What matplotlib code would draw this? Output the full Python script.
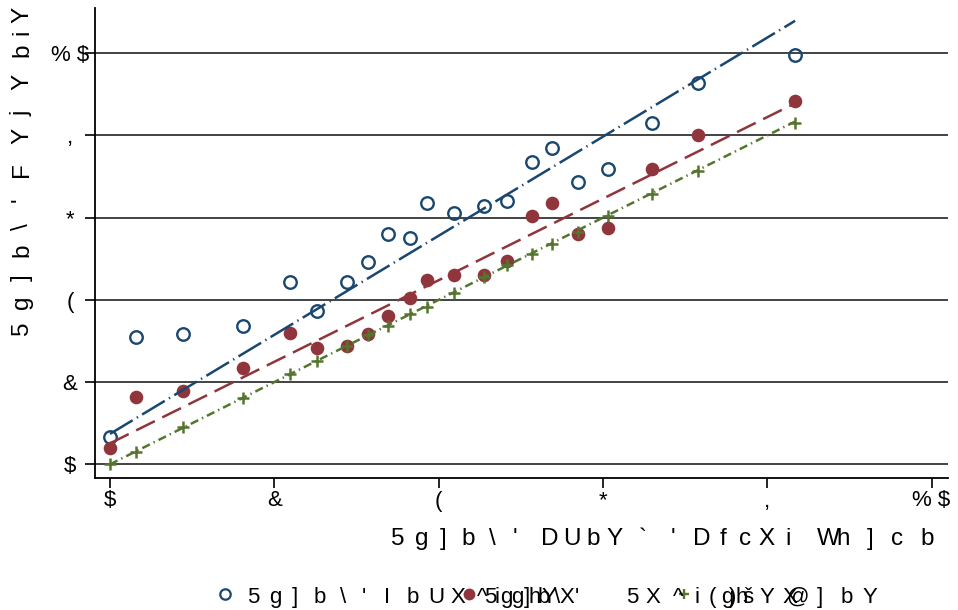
import matplotlib
matplotlib.use('Agg')
import matplotlib.pyplot as plt
from matplotlib.lines import Line2D

plt.rcParams['font.family'] = ['Liberation Sans', 'DejaVu Sans']
plt.rcParams['lines.scale_dashes'] = False

# binned means on the x axis
x_bins = [0.0, 0.316, 0.892, 1.615, 2.187, 2.516, 2.881, 3.137, 3.388, 3.655, 3.855,
          4.187, 4.556, 4.829, 5.133, 5.377, 5.701, 6.066, 6.601, 7.152, 8.339]
y_unadj = [0.672, 3.090, 3.178, 3.372, 4.443, 3.723, 4.428, 4.929, 5.596, 5.506, 6.365,
           6.107, 6.285, 6.406, 7.355, 7.703, 6.876, 7.185, 8.292, 9.270, 9.959]
y_adj = [0.404, 1.637, 1.791, 2.336, 3.202, 2.837, 2.886, 3.163, 3.616, 4.054, 4.477,
         4.613, 4.606, 4.939, 6.041, 6.350, 5.603, 5.749, 7.185, 8.000, 8.839]
y_ref = [0.0, 0.307, 0.900, 1.606, 2.190, 2.513, 2.886, 3.146, 3.372, 3.650, 3.835,
         4.175, 4.550, 4.849, 5.124, 5.367, 5.659, 6.049, 6.569, 7.136, 8.311]

# fitted lines: (intercept, slope)
fit_unadj = (0.74, 1.205)
fit_adj = (0.51, 0.992)
fit_ref = (0.0, 1.0)

ticks = [0, 2, 4, 6, 8, 10]
tick_labels = ['$', '&', '(', '*', ',', '% $']

navy = '#1a476f'
maroon = '#90353b'
green = '#55752f'

W, H = 958, 610
fig = plt.figure(figsize=(W / 100, H / 100), dpi=100)
ax = fig.add_axes([95 / W, 1 - 478 / H, 853 / W, 470 / H])

ax.plot(x_bins, y_unadj, 'o', ms=9, mfc='none', mec=navy, mew=1.7, zorder=3)
ax.plot(x_bins, y_adj, 'o', ms=9.8, mfc=maroon, mec=maroon, mew=0, zorder=3)
ax.plot(x_bins, y_ref, '+', ms=8.5, mec=green, mew=1.8, zorder=3)

x0, x1 = x_bins[0], x_bins[-1]
for (a, b), col, dash in [(fit_unadj, navy, (19, 3.5, 1, 3.5)),
                          (fit_adj, maroon, (15, 6)),
                          (fit_ref, green, (6, 3, 1, 3))]:
    ax.plot([x0, x1], [a + b * x0, a + b * x1], color=col, lw=1.8,
            dashes=dash, zorder=4)

ax.set_xlim(-0.183, 10.20)
ax.set_ylim(-0.333, 11.10)
for t in ticks:
    ax.axhline(t, color='#222222', lw=1.2, zorder=1)

ax.set_xticks(ticks)
ax.set_xticklabels(tick_labels, fontsize=16)
ax.set_yticks(ticks)
ax.set_yticklabels(tick_labels, fontsize=16, ha='center')
ax.tick_params(axis='x', length=7, width=1.2, pad=2)
ax.tick_params(axis='y', length=7, width=1.2, pad=11)

for side in ['top', 'right']:
    ax.spines[side].set_visible(False)
for side in ['left', 'bottom']:
    ax.spines[side].set_linewidth(1.3)


def put(ch, x, y, rot=0, size=17.5):
    fig.text(x / W, 1 - y / H, ch, fontsize=size, rotation=rot,
             rotation_mode='anchor', ha='center', va='baseline')


# x axis title
xt_chars = "5g]b\\'DUbY`'DfcXiWh]cb"
xt_pos = [398, 422, 443, 468, 492, 515, 550, 572, 593, 615, 643, 673,
          702, 723, 745, 767, 788, 828, 843, 870, 897, 927]
for ch, px in zip(xt_chars, xt_pos):
    put(ch, px, 545)

# y axis title
yt_chars = "5g]b\\'FYjYbiY"
yt_pos = [328, 302, 278, 250, 227, 200, 170, 136, 113, 82, 50, 32, 15]
for ch, py in zip(yt_chars, yt_pos):
    put(ch, 28, py, rot=90)

# legend
fig.add_artist(Line2D([225 / W], [1 - 594 / H], transform=fig.transFigure, marker='o',
                      ms=7.5, mfc='none', mec=navy, mew=1.6))
fig.add_artist(Line2D([469 / W], [1 - 594 / H], transform=fig.transFigure, marker='o',
                      ms=8.5, mfc=maroon, mec=maroon, mew=0))
fig.add_artist(Line2D([684 / W], [1 - 594 / H], transform=fig.transFigure, marker='+',
                      ms=7.5, mec=green, mew=1.7))

leg_chars = "5g]b\\'IbUX" + "^5igg]hbY\\X'" + "5X^" + "i(g)hšYX@]bY"
leg_pos = [253, 275, 295, 320, 343, 364, 387, 413, 436, 458,
           482, 490, 497, 506, 517, 527, 535, 544, 549, 557, 567, 577,
           632, 653, 678,
           697, 712, 727, 733, 742, 748, 767, 790, 797, 820, 847, 870]
for ch, px in zip(leg_chars, leg_pos):
    put(ch, px, 603, size=16)

fig.savefig('out.png', dpi=100)
